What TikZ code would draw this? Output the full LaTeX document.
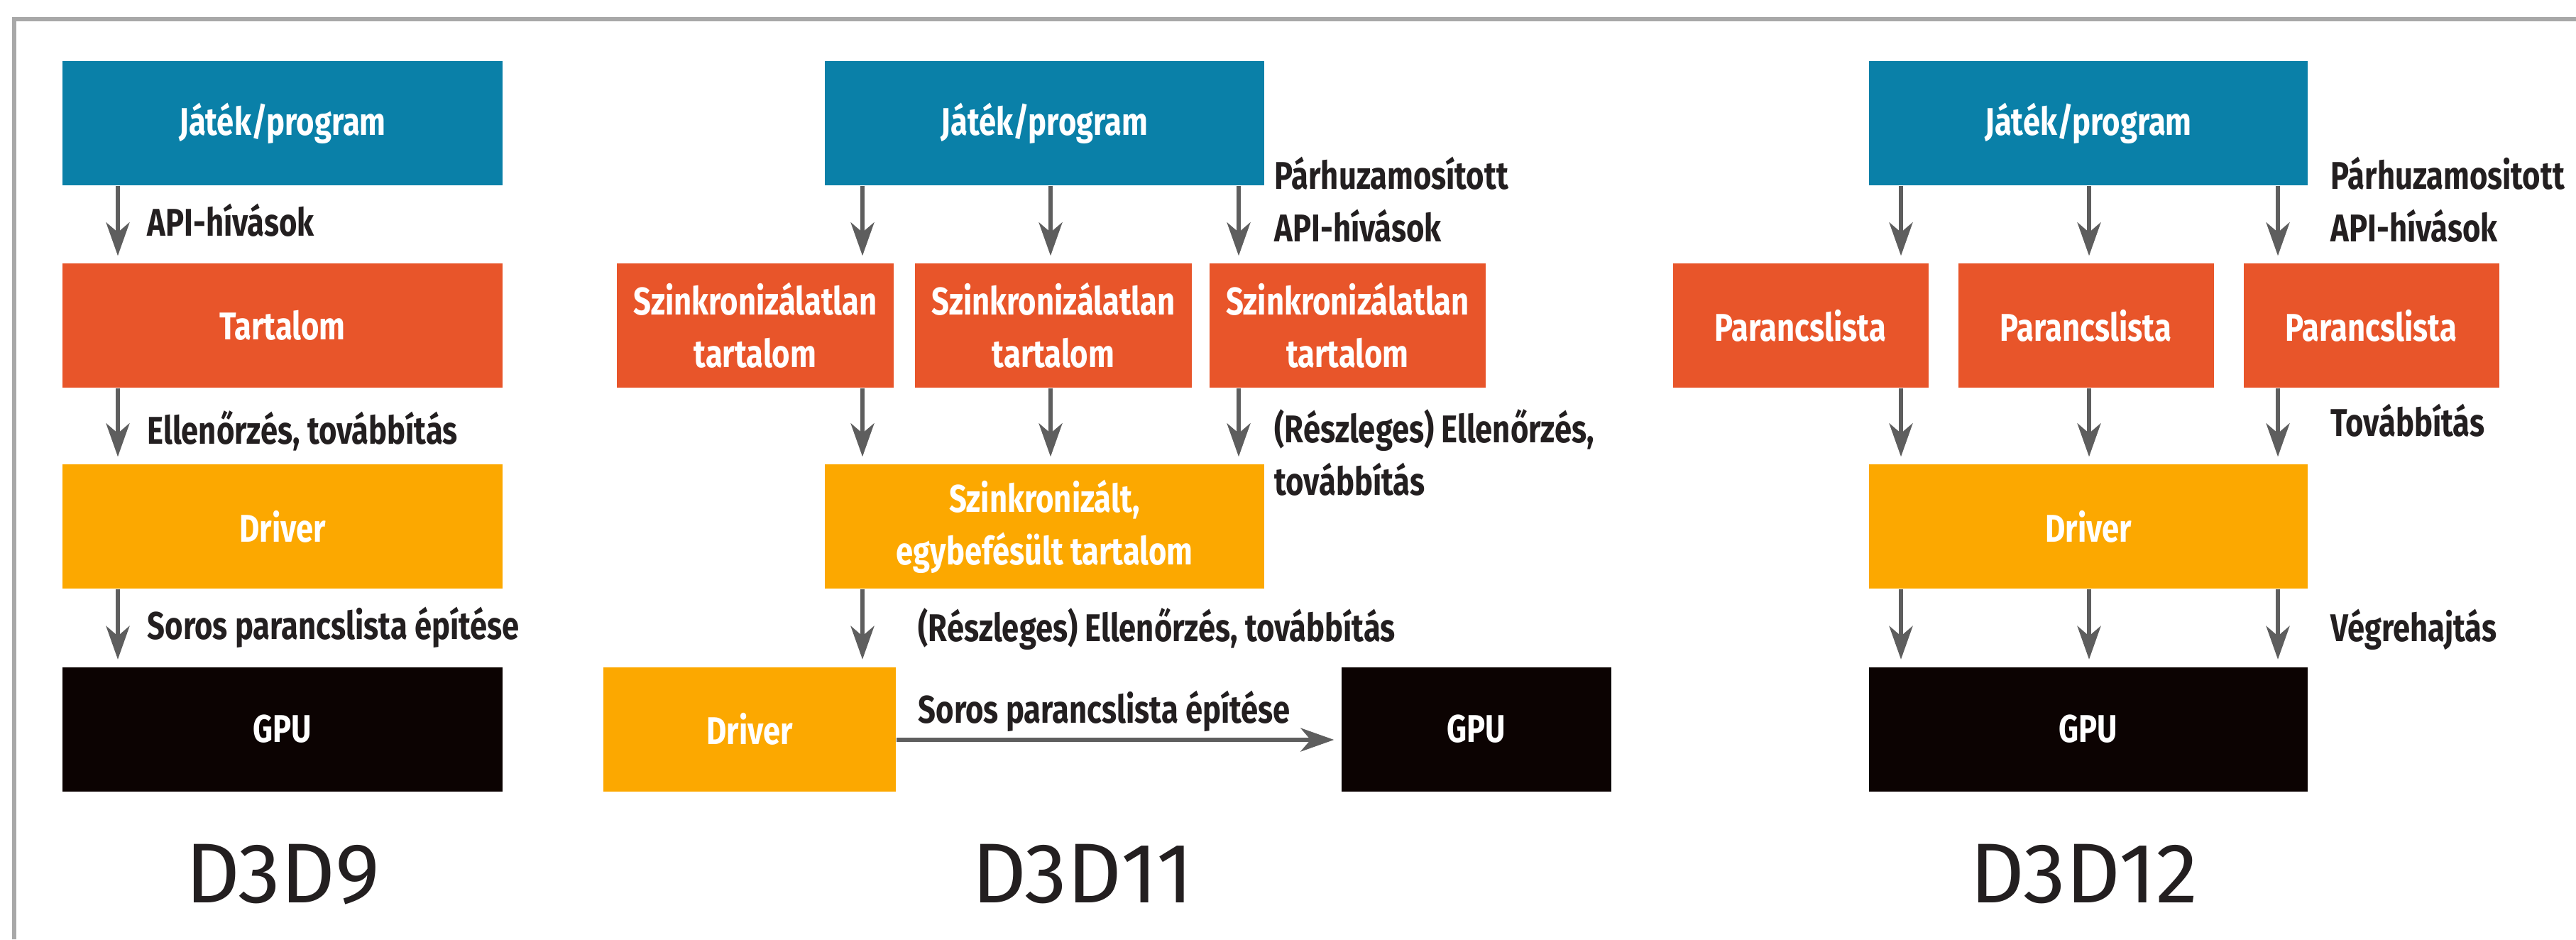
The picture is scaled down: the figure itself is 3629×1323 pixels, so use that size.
\documentclass[tikz,border=0pt]{standalone}
\usepackage{fontspec}
\setmainfont{Fira Sans}
\newfontfamily\cond[FakeStretch=0.80]{Fira Sans}
\newfontfamily\ttlfont[Numbers=Proportional]{Fira Sans}
\usetikzlibrary{arrows.meta}
\definecolor{cblue}{HTML}{0A80A8}
\definecolor{cred}{HTML}{E8552A}
\definecolor{cyel}{HTML}{FCA800}
\definecolor{cblk}{HTML}{0C0302}
\definecolor{arrgray}{HTML}{5E5E5E}
\definecolor{lblc}{HTML}{231F20}
\definecolor{framec}{HTML}{A8A8A8}
\newcommand\lsz{\fontsize{15.5pt}{21pt}\selectfont}
\tikzset{
  box/.style={rectangle, inner sep=0pt, minimum height=17.5mm, text=white,
    font=\cond\bfseries\lsz, align=center},
  arr/.style={draw=arrgray, line width=0.6mm,
    -{Stealth[length=4.7mm,width=3.3mm,inset=1.4mm]}, shorten >=1mm},
  lbl/.style={inner sep=0pt, anchor=base west, text=lblc,
    font=\cond\bfseries\lsz, align=left},
  ttl/.style={inner sep=0pt, anchor=base, text=lblc,
    font=\ttlfont\fontsize{34pt}{40pt}\selectfont}
}
\begin{document}
\begin{tikzpicture}[x=0.1mm, y=-0.1mm]
\useasboundingbox (0,0) rectangle (3629,1323);
\fill[white] (0,0) rectangle (3629,1323);
% frame
\draw[framec, line width=0.55mm] (20,1323) -- (20,27) -- (3629,27);

% ---------- D3D9 ----------
\node[box, fill=cblue, minimum width=62mm] (a1) at (398,173.5) {Játék/program};
\node[box, fill=cred,  minimum width=62mm] (a2) at (398,458.5) {Tartalom};
\node[box, fill=cyel,  minimum width=62mm] (a3) at (398,741.5) {Driver};
\node[box, fill=cblk,  minimum width=62mm] (a4) at (398,1027) {GPU};
\coordinate (xa) at (166,0);
\draw[arr] (a1.south -| xa) -- (a2.north -| xa);
\draw[arr] (a2.south -| xa) -- (a3.north -| xa);
\draw[arr] (a3.south -| xa) -- (a4.north -| xa);
\node[lbl] (la1) at (207,332) {API-hívások};
\node[lbl] (la2) at (207,625) {Ellenőrzés, továbbítás};
\node[lbl] (la3) at (207,900) {Soros parancslista építése};
\node[ttl] (ta) at (398,1271) {D3D9};

% ---------- D3D11 ----------
\node[box, fill=cblue, minimum width=61.9mm] (b1) at (1471.5,173.5) {Játék/program};
\node[box, fill=cred, minimum width=39mm] (b2) at (1064,458.5) {Szinkronizálatlan\\tartalom};
\node[box, fill=cred, minimum width=39mm] (b3) at (1484,458.5) {Szinkronizálatlan\\tartalom};
\node[box, fill=cred, minimum width=38.9mm] (b4) at (1898.5,458.5) {Szinkronizálatlan\\tartalom};
\node[box, fill=cyel, minimum width=61.9mm] (b5) at (1471.5,741.5) {Szinkronizált,\\egybefésült tartalom};
\node[box, fill=cyel, minimum width=41.2mm] (b6) at (1056,1027) {Driver};
\node[box, fill=cblk, minimum width=38mm] (b7) at (2080,1027) {GPU};
\coordinate (xb1) at (1215,0);
\coordinate (xb2) at (1480,0);
\coordinate (xb3) at (1745,0);
\draw[arr] (b1.south -| xb1) -- (b2.north -| xb1);
\draw[arr] (b1.south -| xb2) -- (b3.north -| xb2);
\draw[arr] (b1.south -| xb3) -- (b4.north -| xb3);
\draw[arr] (b2.south -| xb1) -- (b5.north -| xb1);
\draw[arr] (b3.south -| xb2) -- (b5.north -| xb2);
\draw[arr] (b4.south -| xb3) -- (b5.north -| xb3);
\draw[arr] (b5.south -| xb1) -- (b6.north -| xb1);
\draw[arr] ([yshift=-1.5mm]b6.east) -- ([yshift=-1.5mm]b7.west);
\node[lbl] (lb1) at (1795,340) {Párhuzamosított\\API-hívások};
\node[lbl] (lb2) at (1795,697) {(Részleges) Ellenőrzés,\\továbbítás};
\node[lbl] (lb3) at (1293,903) {(Részleges) Ellenőrzés, továbbítás};
\node[lbl] (lb4) at (1293,1018) {Soros parancslista építése};
\node[ttl] (tb) at (1525,1271) {D3D11};

% ---------- D3D12 ----------
\node[box, fill=cblue, minimum width=61.8mm] (c1) at (2942,173.5) {Játék/program};
\node[box, fill=cred, minimum width=36mm] (c2) at (2536.5,458.5) {Parancslista};
\node[box, fill=cred, minimum width=36mm] (c3) at (2938.5,458.5) {Parancslista};
\node[box, fill=cred, minimum width=36mm] (c4) at (3340.5,458.5) {Parancslista};
\node[box, fill=cyel, minimum width=61.8mm] (c5) at (2942,741.5) {Driver};
\node[box, fill=cblk, minimum width=61.8mm] (c6) at (2942,1027) {GPU};
\coordinate (xc1) at (2678,0);
\coordinate (xc2) at (2943,0);
\coordinate (xc3) at (3209,0);
\draw[arr] (c1.south -| xc1) -- (c2.north -| xc1);
\draw[arr] (c1.south -| xc2) -- (c3.north -| xc2);
\draw[arr] (c1.south -| xc3) -- (c4.north -| xc3);
\draw[arr] (c2.south -| xc1) -- (c5.north -| xc1);
\draw[arr] (c3.south -| xc2) -- (c5.north -| xc2);
\draw[arr] (c4.south -| xc3) -- (c5.north -| xc3);
\draw[arr] (c5.south -| xc1) -- (c6.north -| xc1);
\draw[arr] (c5.south -| xc2) -- (c6.north -| xc2);
\draw[arr] (c5.south -| xc3) -- (c6.north -| xc3);
\node[lbl] (lc1) at (3283,340) {Párhuzamositott\\API-hívások};
\node[lbl] (lc2) at (3283,614) {Továbbítás};
\node[lbl] (lc3) at (3283,903) {Végrehajtás};
\node[ttl] (tc) at (2936,1271) {D3D12};
\end{tikzpicture}
\end{document}
